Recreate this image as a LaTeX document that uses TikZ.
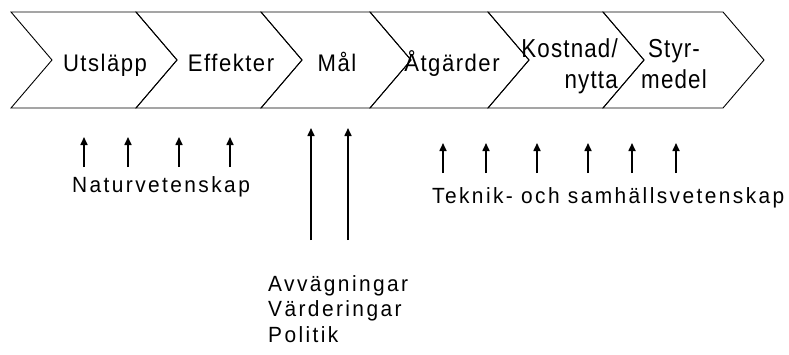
\documentclass[tikz,border=0pt]{standalone}
\usepackage{fontspec}
\setmainfont{Liberation Sans}
\newfontfamily\chevfont[FakeStretch=0.92, LetterSpace=6.3]{Liberation Sans}
\newfontfamily\twofont[FakeStretch=0.86, LetterSpace=4.5]{Liberation Sans}
\newfontfamily\lowfont[FakeStretch=0.95, LetterSpace=11]{Liberation Sans}
\usetikzlibrary{arrows.meta}
\tikzset{
  lbl/.style={inner sep=0pt, font=\chevfont\fontsize{24}{28}\selectfont},
  lbltwo/.style={inner sep=0pt, font=\twofont\fontsize{26}{31}\selectfont},
  low/.style={inner sep=0pt, font=\lowfont\fontsize{22}{25.5}\selectfont},
  up/.style={line width=1.6pt, -{Triangle[length=8pt,width=7pt]}},
  chev/.style={draw=black, line width=0.9pt, line join=miter},
}
% one chevron: #1 left x, #2 right x (top corners), depth 41
\newcommand{\chevronat}[2]{%
  \draw[chev] (#1,12) -- (#2,12) -- ({#2+41},60) -- (#2,108) -- (#1,108) -- ({#1+41},60) -- cycle;}
\begin{document}
\begin{tikzpicture}[x=1pt,y=-1pt]
\useasboundingbox (0,0) rectangle (789,354);
\fill[white] (0,0) rectangle (789,354);

% process chain
\chevronat{11}{136}
\chevronat{136}{261}
\chevronat{261}{370}
\chevronat{370}{488}
\chevronat{488}{603}
\chevronat{603}{723}

\node[lbl, anchor=base] (utslapp) at (105,71) {Utsläpp};
\node[lbl, anchor=base] (effekter) at (231,71) {Effekter};
\node[lbl, anchor=base] (mal) at (337,71) {Mål};
\node[lbl, anchor=base] (atgarder) at (452,71) {Åtgärder};
% multi-line labels: the base anchor sits on the last line
\node[lbltwo, anchor=base east, align=right] (kostnad) at (618,88) {Kostnad/\\nytta};
\node[lbltwo, anchor=base, align=center] (styr) at (674,88) {Styr-\\medel};

% natural science inputs
\foreach \x [count=\i] in {84,128,179,230} {
  \coordinate (n\i a) at (\x,167);
  \coordinate (n\i b) at (\x,137);
  \draw[up] (n\i a) -- (n\i b);
}
\node[low, anchor=base] (natur) at (161,192) {Naturvetenskap};

% value-based inputs
\foreach \x [count=\i] in {311,348} {
  \coordinate (v\i a) at (\x,240);
  \coordinate (v\i b) at (\x,128);
  \draw[up] (v\i a) -- (v\i b);
}
\node[low, anchor=base west, align=left] (varden) at (268,342) {Avvägningar\\Värderingar\\Politik};

% technology and social science inputs
\foreach \x [count=\i] in {443,486,537,588,632,676} {
  \coordinate (t\i a) at (\x,173);
  \coordinate (t\i b) at (\x,143);
  \draw[up] (t\i a) -- (t\i b);
}
\node[low, anchor=base west] (teknik) at (432,203) {Teknik- och samhällsvetenskap};
\end{tikzpicture}
\end{document}
